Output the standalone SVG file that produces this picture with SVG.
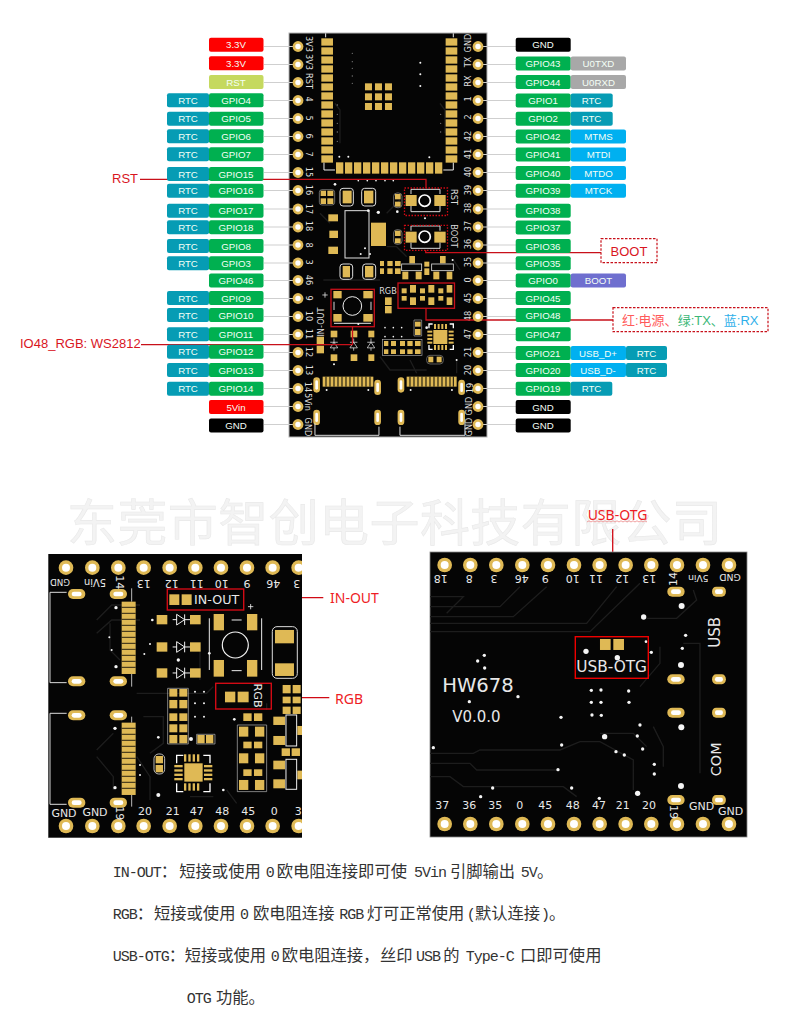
<svg xmlns="http://www.w3.org/2000/svg" width="790" height="1030" viewBox="0 0 790 1030">
<style>
text{font-family:"Liberation Sans",Arial,"Noto Sans CJK SC",sans-serif}
.t{font-size:9.7px;fill:#f4fff6;text-anchor:middle;dominant-baseline:central}
.r{fill:#fe0000}.gr{fill:#00b050}.c{fill:#069cb4}.l{fill:#c5d95f}.k{fill:#000}.y{fill:#a8a8a8}.b{fill:#00b0f0}.v{fill:#6f6fcf}
.cn{stroke:#cfcfcf;stroke-width:1.2;fill:none}
.rl{stroke:#c8101a;stroke-width:1.3;fill:none}
.rb{stroke:#d00a14;stroke-width:1.3;fill:none}
.dash{stroke:#c8101a;stroke-width:1.2;stroke-dasharray:2.5 1.5;fill:#fff}
.dot{stroke:#d00a14;stroke-width:1.3;stroke-dasharray:1.5 1.5;fill:none}
.rt{font-size:13px;fill:#d9161f;dominant-baseline:central}
.pure{font-family:"Noto Sans","Liberation Sans",sans-serif;font-size:14px;fill:#ee1c25;dominant-baseline:central}
.g{fill:#dfb955}
.s{fill:none;stroke:#ddd;stroke-width:3}
.w{fill:#f5f5f5}
.tr{fill:none;stroke:#1d1d1d;stroke-width:4}
.m text{font-family:"DejaVu Sans",sans-serif;font-size:8.2px;fill:#ddd;text-anchor:middle;dominant-baseline:central}
.m3 text{font-family:"DejaVu Sans",sans-serif;font-size:33px;fill:#e8e8e8;text-anchor:middle;dominant-baseline:central}
.note{font-size:16.3px;fill:#333;font-family:"Noto Sans CJK SC",sans-serif}
.note .a{font-family:"Liberation Mono",monospace;font-size:15px;letter-spacing:-1px}
.wm{font-family:"Noto Sans CJK SC",sans-serif;font-size:50px;fill:#f3f3f3;stroke:#e9e9e9;stroke-width:.6}
</style>
<defs>
<g id="pin"><circle r="5.4" fill="#dfb955"/><circle r="2.7" fill="#fff"/></g>
<g id="pinb"><circle r="22" fill="#dfb955"/><circle r="12" fill="#fff"/></g>
<g id="slot"><rect x="-26" y="-15" width="52" height="30" rx="15" fill="#dfb955"/><rect x="-15" y="-7" width="30" height="14" rx="7" fill="#fff"/></g>
<g id="slotv"><rect x="-10" y="-23" width="20" height="46" rx="10" fill="#dfb955"/><rect x="-4" y="-14" width="8" height="28" rx="4" fill="#fff"/></g>
<g id="diodeb"><path d="M-20 0H-8M-8-16V16L16 0ZM16-16V16M16 0H32" fill="none" stroke="#f2f2f2" stroke-width="3"/></g>
<clipPath id="clipL"><rect x="48" y="554" width="254" height="284"/></clipPath>
</defs>
<rect width="790" height="1030" fill="#fff"/>

<g id="watermark"><text class="wm" x="67" y="541" textLength="655">东莞市智创电子科技有限公司</text></g>

<g id="board-top">
<rect x="289" y="33" width="198" height="404" fill="#050505" stroke="#b5b5b5" stroke-width="1"/>
<g transform="translate(150,20) scale(.3333)">
<path class="tr" d="M870 250L885 270V340M555 250L570 270V370"/>
<g class="g">
<rect x="514" y="55" width="35" height="22"/><rect x="514" y="82" width="35" height="22"/><rect x="514" y="109" width="35" height="22"/><rect x="514" y="136" width="35" height="22"/><rect x="514" y="163" width="35" height="22"/><rect x="514" y="190" width="35" height="22"/><rect x="514" y="217" width="35" height="22"/><rect x="514" y="244" width="35" height="22"/><rect x="514" y="271" width="35" height="22"/><rect x="514" y="298" width="35" height="22"/><rect x="514" y="325" width="35" height="22"/><rect x="514" y="352" width="35" height="22"/><rect x="514" y="379" width="35" height="22"/><rect x="514" y="406" width="35" height="22"/>
<rect x="887" y="55" width="35" height="22"/><rect x="887" y="82" width="35" height="22"/><rect x="887" y="109" width="35" height="22"/><rect x="887" y="136" width="35" height="22"/><rect x="887" y="163" width="35" height="22"/><rect x="887" y="190" width="35" height="22"/><rect x="887" y="217" width="35" height="22"/><rect x="887" y="244" width="35" height="22"/><rect x="887" y="271" width="35" height="22"/><rect x="887" y="298" width="35" height="22"/><rect x="887" y="325" width="35" height="22"/><rect x="887" y="352" width="35" height="22"/><rect x="887" y="379" width="35" height="22"/><rect x="887" y="406" width="35" height="22"/>
<rect x="558" y="427" width="22" height="34"/><rect x="585" y="427" width="22" height="34"/><rect x="612" y="427" width="22" height="34"/><rect x="639" y="427" width="22" height="34"/><rect x="666" y="427" width="22" height="34"/><rect x="693" y="427" width="22" height="34"/><rect x="720" y="427" width="22" height="34"/><rect x="747" y="427" width="22" height="34"/><rect x="774" y="427" width="22" height="34"/><rect x="801" y="427" width="22" height="34"/><rect x="828" y="427" width="22" height="34"/><rect x="855" y="427" width="22" height="34"/>
<rect x="645" y="190" width="21" height="21"/><rect x="675" y="190" width="21" height="21"/><rect x="705" y="190" width="21" height="21"/><rect x="645" y="220" width="21" height="21"/><rect x="675" y="220" width="21" height="21"/><rect x="705" y="220" width="21" height="21"/><rect x="645" y="249" width="21" height="21"/><rect x="675" y="249" width="21" height="21"/><rect x="705" y="249" width="21" height="21"/>
</g>
<path d="M522 428V450H555M880 450H910V428M527 40V52M910 40V52" fill="none" stroke="#eee" stroke-width="3"/>
<g class="w"><circle cx="811" cy="128" r="3"/><circle cx="811" cy="163" r="3"/><circle cx="811" cy="198" r="3"/><circle cx="568" cy="410" r="3"/><circle cx="595" cy="410" r="3"/><circle cx="838" cy="412" r="3"/><circle cx="625" cy="482" r="2.5"/><circle cx="652" cy="482" r="2.5"/><circle cx="678" cy="482" r="2.5"/><circle cx="705" cy="482" r="2.5"/><circle cx="730" cy="482" r="2.5"/></g>
<g fill="#777"><circle cx="607" cy="100" r="2"/><circle cx="607" cy="125" r="2"/><circle cx="607" cy="145" r="2"/><circle cx="607" cy="168" r="2"/><circle cx="607" cy="190" r="2"/><circle cx="562" cy="255" r="2"/><circle cx="562" cy="283" r="2"/><circle cx="562" cy="310" r="2"/><circle cx="562" cy="336" r="2"/><circle cx="562" cy="364" r="2"/><circle cx="872" cy="283" r="2"/><circle cx="872" cy="310" r="2"/><circle cx="872" cy="336" r="2"/></g>
</g>

<g transform="translate(310,180) scale(.3333)">
<path class="tr" d="M30 100L60 130M230 100L270 60M230 200H260L290 230M40 300H210M430 240L450 270"/>
<g class="g">
<rect x="32" y="32" width="16" height="16"/><rect x="52" y="32" width="18" height="16"/><rect x="32" y="55" width="16" height="17"/><rect x="52" y="55" width="18" height="17"/>
<rect x="98" y="32" width="27" height="38"/><rect x="162" y="32" width="28" height="38"/>
<rect x="255" y="42" width="17" height="16"/><rect x="255" y="65" width="17" height="15"/>
<rect x="287" y="45" width="33" height="33"/><rect x="373" y="45" width="34" height="33"/>
<rect x="55" y="103" width="29" height="21"/><rect x="58" y="152" width="26" height="22"/><rect x="55" y="200" width="29" height="22"/>
<rect x="183" y="128" width="45" height="70"/>
<rect x="255" y="152" width="17" height="16"/><rect x="255" y="175" width="17" height="15"/>
<rect x="287" y="155" width="33" height="33"/><rect x="373" y="155" width="34" height="33"/>
<rect x="98" y="258" width="22" height="34"/><rect x="165" y="258" width="25" height="34"/>
<rect x="210" y="243" width="12" height="15"/><rect x="232" y="243" width="16" height="15"/><rect x="255" y="243" width="17" height="15"/><rect x="210" y="265" width="12" height="17"/><rect x="232" y="265" width="16" height="17"/><rect x="255" y="265" width="17" height="17"/>
<rect x="298" y="228" width="17" height="22"/><rect x="390" y="228" width="17" height="22"/><rect x="277" y="275" width="18" height="23"/><rect x="317" y="275" width="18" height="23"/><rect x="370" y="275" width="18" height="23"/><rect x="410" y="275" width="17" height="23"/>
<rect x="343" y="245" width="15" height="15"/><rect x="343" y="265" width="15" height="20"/>
</g>
<path class="s" d="M303 42V28H390V42M303 78V95H390V78M303 152V138H390V152M303 188V205H390V188"/>
<rect class="s" x="90" y="25" width="40" height="53" rx="9"/><rect class="s" x="155" y="25" width="42" height="53" rx="9"/>
<rect class="s" x="90" y="252" width="38" height="46" rx="9"/><rect class="s" x="158" y="252" width="39" height="46" rx="9"/>
<rect x="28" y="29" width="46" height="46" rx="8" fill="none" stroke="#999" stroke-width="2"/>
<rect x="251" y="39" width="25" height="44" rx="10" fill="none" stroke="#999" stroke-width="2"/><rect x="251" y="149" width="25" height="44" rx="10" fill="none" stroke="#999" stroke-width="2"/>
<rect x="105" y="92" width="72" height="142" fill="none" stroke="#e2e2e2" stroke-width="3"/>
<rect x="275" y="252" width="60" height="20" fill="none" stroke="#ddd" stroke-width="2.5"/><rect x="365" y="252" width="65" height="20" fill="none" stroke="#ddd" stroke-width="2.5"/>
<circle cx="344" cy="62" r="17" fill="none" stroke="#fff" stroke-width="5"/><circle cx="344" cy="170" r="17" fill="none" stroke="#fff" stroke-width="5"/>
<g class="w"><circle cx="175" cy="92" r="4"/><circle cx="205" cy="97" r="5"/><circle cx="262" cy="95" r="4"/><circle cx="345" cy="115" r="3"/><circle cx="165" cy="205" r="3"/><circle cx="152" cy="222" r="3"/><circle cx="180" cy="222" r="3"/><circle cx="75" cy="13" r="4"/><circle cx="428" cy="240" r="3"/></g>
</g>

<g transform="translate(310,280) scale(.3333)">
<path class="tr" d="M210 230L240 270H350M440 240V280M300 240L320 280"/>
<g class="g">
<rect x="70" y="33" width="25" height="22"/><rect x="160" y="33" width="28" height="22"/><rect x="70" y="102" width="25" height="23"/><rect x="160" y="102" width="28" height="23"/>
<rect x="20" y="170" width="22" height="25"/><rect x="20" y="197" width="22" height="23"/>
<rect x="62" y="152" width="20" height="20"/><rect x="122" y="152" width="20" height="20"/><rect x="175" y="152" width="18" height="20"/><rect x="62" y="223" width="20" height="20"/><rect x="122" y="223" width="20" height="20"/><rect x="175" y="223" width="18" height="20"/>
<rect x="225" y="52" width="20" height="23"/><rect x="225" y="78" width="20" height="22"/>
<rect x="275" y="25" width="15" height="15"/><rect x="300" y="15" width="18" height="23"/><rect x="330" y="25" width="15" height="15"/><rect x="355" y="15" width="18" height="23"/><rect x="385" y="25" width="15" height="15"/><rect x="410" y="15" width="17" height="23"/>
<rect x="275" y="48" width="15" height="14"/><rect x="300" y="52" width="18" height="23"/><rect x="330" y="48" width="15" height="14"/><rect x="355" y="52" width="18" height="23"/><rect x="385" y="48" width="15" height="14"/><rect x="410" y="52" width="17" height="23"/>
<rect x="222" y="183" width="13" height="15"/><rect x="243" y="183" width="15" height="15"/><rect x="222" y="208" width="13" height="14"/><rect x="243" y="208" width="15" height="14"/><rect x="270" y="183" width="15" height="15"/><rect x="292" y="183" width="16" height="15"/><rect x="315" y="183" width="17" height="15"/><rect x="270" y="208" width="15" height="14"/><rect x="292" y="208" width="16" height="14"/><rect x="315" y="208" width="17" height="14"/>
<rect x="315" y="125" width="17" height="15"/><rect x="315" y="147" width="17" height="18"/>
<rect x="370" y="150" width="42" height="42"/>
<rect x="372" y="132" width="6" height="15"/><rect x="383" y="132" width="6" height="15"/><rect x="394" y="132" width="6" height="15"/><rect x="405" y="132" width="6" height="15"/><rect x="372" y="195" width="6" height="15"/><rect x="383" y="195" width="6" height="15"/><rect x="394" y="195" width="6" height="15"/><rect x="405" y="195" width="6" height="15"/>
<rect x="352" y="152" width="15" height="6"/><rect x="352" y="163" width="15" height="6"/><rect x="352" y="174" width="15" height="6"/><rect x="352" y="185" width="15" height="6"/><rect x="416" y="152" width="15" height="6"/><rect x="416" y="163" width="15" height="6"/><rect x="416" y="174" width="15" height="6"/><rect x="416" y="185" width="15" height="6"/>
<rect x="355" y="230" width="15" height="17"/><rect x="380" y="230" width="15" height="17"/>
<rect x="38" y="290" width="152" height="30"/><rect x="290" y="290" width="150" height="30"/>
</g>
<path d="M48 290V320M60 290V320M72 290V320M84 290V320M96 290V320M108 290V320M120 290V320M132 290V320M144 290V320M156 290V320M168 290V320M180 290V320M300 290V320M312 290V320M324 290V320M336 290V320M348 290V320M360 290V320M372 290V320M384 290V320M396 290V320M408 290V320M420 290V320M430 290V320" stroke="#050505" stroke-width="3"/>
<path d="M312 120H335V168H312Z" fill="none" stroke="#aaa" stroke-width="2"/>
<rect x="218" y="178" width="118" height="48" fill="none" stroke="#aaa" stroke-width="2"/>
<rect x="350" y="226" width="50" height="26" rx="10" fill="none" stroke="#888" stroke-width="2"/>
<circle cx="127" cy="78" r="28" fill="none" stroke="#eee" stroke-width="3"/>
<path d="M72 65V90M183 65V90M72 130H183" stroke="#bbb" stroke-width="3.5" fill="none"/>
<path d="M45 37V53M37 45H53" stroke="#ddd" stroke-width="2.5"/>
<use href="#diodeb" transform="translate(72,198) rotate(-90) scale(.7)"/><use href="#diodeb" transform="translate(131,198) rotate(-90) scale(.7)"/><use href="#diodeb" transform="translate(183,198) rotate(-90) scale(.7)"/>
<path d="M357 145V132H368M430 145V132H419M357 195V208H368M430 195V208H419" fill="none" stroke="#fff" stroke-width="4"/>
<g class="w"><circle cx="225" cy="143" r="2.500"/><circle cx="250" cy="143" r="2.500"/><circle cx="275" cy="143" r="2.500"/><circle cx="225" cy="170" r="2.500"/><circle cx="250" cy="170" r="2.500"/><circle cx="275" cy="170" r="2.500"/><circle cx="350" cy="143" r="4"/><circle cx="145" cy="132" r="3"/><circle cx="72" cy="253" r="3"/><circle cx="440" cy="240" r="3"/></g>
</g>

<g transform="translate(0,230) scale(.3333)">
<use href="#slotv" x="950" y="465"/><use href="#slotv" x="1133" y="472"/><use href="#slotv" x="1203" y="465"/><use href="#slotv" x="1385" y="472"/><use href="#slotv" x="950" y="562"/><use href="#slotv" x="1133" y="562"/><use href="#slotv" x="1203" y="562"/><use href="#slotv" x="1385" y="562"/>
<path d="M945 580V616H1137V590M1200 590V616H1395V580" fill="none" stroke="#ddd" stroke-width="3"/>
<g class="w"><circle cx="980" cy="480" r="3"/><circle cx="1105" cy="480" r="3"/><circle cx="1232" cy="480" r="3"/><circle cx="1356" cy="480" r="3"/></g>
</g>
<g class="m">
<text transform="translate(309,44) rotate(90)">3V3</text><text transform="translate(309,62) rotate(90)">3V3</text><text transform="translate(309,81) rotate(90)">RST</text><text transform="translate(309,99) rotate(90)">4</text><text transform="translate(309,118) rotate(90)">5</text><text transform="translate(309,136) rotate(90)">6</text><text transform="translate(309,154) rotate(90)">7</text><text transform="translate(309,172) rotate(90)">15</text><text transform="translate(309,190) rotate(90)">16</text><text transform="translate(309,209) rotate(90)">17</text><text transform="translate(309,226) rotate(90)">18</text><text transform="translate(309,245) rotate(90)">8</text><text transform="translate(309,262) rotate(90)">3</text><text transform="translate(309,280) rotate(90)">46</text><text transform="translate(309,298) rotate(90)">9</text><text transform="translate(309,316) rotate(90)">10</text><text transform="translate(309,334) rotate(90)">11</text><text transform="translate(309,352) rotate(90)">12</text><text transform="translate(309,370) rotate(90)">13</text><text transform="translate(308,387) rotate(90)">14</text><text transform="translate(308,402) rotate(90)">5Vin</text><text transform="translate(308,427) rotate(90)">GND</text>
<text transform="translate(468,43) rotate(-90)">GND</text><text transform="translate(468,62) rotate(-90)">TX</text><text transform="translate(468,81) rotate(-90)">RX</text><text transform="translate(468,99) rotate(-90)">1</text><text transform="translate(468,117) rotate(-90)">2</text><text transform="translate(468,136) rotate(-90)">42</text><text transform="translate(468,154) rotate(-90)">41</text><text transform="translate(468,172) rotate(-90)">40</text><text transform="translate(468,190) rotate(-90)">39</text><text transform="translate(468,208) rotate(-90)">38</text><text transform="translate(468,226) rotate(-90)">37</text><text transform="translate(468,244) rotate(-90)">36</text><text transform="translate(468,262) rotate(-90)">35</text><text transform="translate(468,280) rotate(-90)">0</text><text transform="translate(468,298) rotate(-90)">45</text><text transform="translate(468,316) rotate(-90)">48</text><text transform="translate(468,334) rotate(-90)">47</text><text transform="translate(468,352) rotate(-90)">21</text><text transform="translate(468,370) rotate(-90)">20</text><text transform="translate(470,388) rotate(-90)">19</text><text transform="translate(469,406) rotate(-90)">GND</text><text transform="translate(469,427) rotate(-90)">GND</text>
<text transform="translate(454,197) rotate(90)">RST</text><text transform="translate(454,236) rotate(90)">BOOT</text>
<text x="388" y="291">RGB</text><text transform="translate(320.500,322) rotate(-90)">IN-OUT</text>
</g>
</g>

<g id="connectors">
<path class="cn" d="M264 46.5H298M264 64.5H298M264 82.5H298M264 100.5H298M264 118.5H298M264 136.5H298M264 154.5H298M264 172.5H298M264 190.5H298M264 209H298M264 227H298M264 245H298M264 263H298M264 280.5H298M264 298.5H298M264 316.5H298M264 334.5H298M264 352.5H298M264 370.5H298M264 388.5H298M264 406.5H298M264 424.5H298"/>
<path class="cn" d="M478 46.5H516M478 64.5H516M478 82.5H516M478 100.5H516M478 118.5H516M478 136.5H516M478 154.5H516M478 172.5H516M478 190.5H516M478 209H516M478 227H516M478 245H516M478 263H516M478 280.5H516M478 298.5H516M478 316.5H516M478 334.5H516M478 352.5H516M478 370.5H516M478 388.5H516M478 406.5H516M478 424.5H516"/>
<path class="rl" d="M140 179.3H426V188"/>
<path class="rl" d="M425.7 250V252.7H601"/>
<path class="rl" d="M426 308V320H613"/>
<path class="rl" d="M141 344.7H352.5V327"/>
<path class="rb" d="M243.7 597.7H323.3"/>
<path class="rb" d="M271.3 697.7H329.3"/>
<path class="rb" d="M612.7 529V636.7"/>
</g>

<g id="pins-top">
<use href="#pin" x="298" y="46.5"/><use href="#pin" x="298" y="64.5"/><use href="#pin" x="298" y="82.5"/><use href="#pin" x="298" y="100.5"/><use href="#pin" x="298" y="118.5"/><use href="#pin" x="298" y="136.5"/><use href="#pin" x="298" y="154.5"/><use href="#pin" x="298" y="172.5"/><use href="#pin" x="298" y="190.5"/><use href="#pin" x="298" y="209"/><use href="#pin" x="298" y="227"/><use href="#pin" x="298" y="245"/><use href="#pin" x="298" y="263"/><use href="#pin" x="298" y="280.5"/><use href="#pin" x="298" y="298.5"/><use href="#pin" x="298" y="316.5"/><use href="#pin" x="298" y="334.5"/><use href="#pin" x="298" y="352.5"/><use href="#pin" x="298" y="370.5"/><use href="#pin" x="298" y="388.5"/><use href="#pin" x="298" y="406.5"/><use href="#pin" x="298" y="424.5"/>
<use href="#pin" x="478" y="46.5"/><use href="#pin" x="478" y="64.5"/><use href="#pin" x="478" y="82.5"/><use href="#pin" x="478" y="100.5"/><use href="#pin" x="478" y="118.5"/><use href="#pin" x="478" y="136.5"/><use href="#pin" x="478" y="154.5"/><use href="#pin" x="478" y="172.5"/><use href="#pin" x="478" y="190.5"/><use href="#pin" x="478" y="209"/><use href="#pin" x="478" y="227"/><use href="#pin" x="478" y="245"/><use href="#pin" x="478" y="263"/><use href="#pin" x="478" y="280.5"/><use href="#pin" x="478" y="298.5"/><use href="#pin" x="478" y="316.5"/><use href="#pin" x="478" y="334.5"/><use href="#pin" x="478" y="352.5"/><use href="#pin" x="478" y="370.5"/><use href="#pin" x="478" y="388.5"/><use href="#pin" x="478" y="406.5"/><use href="#pin" x="478" y="424.5"/>
</g>

<g id="labels-left">
<g id="l-3v3a"><rect class="r" x="209" y="37.7" width="54.5" height="14" rx="2"/><text class="t" x="236" y="44.7">3.3V</text></g>
<g id="l-3v3b"><rect class="r" x="209" y="56.3" width="54.5" height="14" rx="2"/><text class="t" x="236" y="63.3">3.3V</text></g>
<g id="l-rst"><rect class="l" x="209" y="75" width="54.5" height="14" rx="2"/><text class="t" x="236" y="82">RST</text></g>
<g id="l-4"><rect class="c" x="167" y="93.3" width="42" height="14" rx="2"/><text class="t" x="188" y="100.3">RTC</text><rect class="gr" x="209" y="93.3" width="54.5" height="14" rx="2"/><text class="t" x="236" y="100.3">GPIO4</text></g>
<g id="l-5"><rect class="c" x="167" y="111.7" width="42" height="14" rx="2"/><text class="t" x="188" y="118.7">RTC</text><rect class="gr" x="209" y="111.7" width="54.5" height="14" rx="2"/><text class="t" x="236" y="118.7">GPIO5</text></g>
<g id="l-6"><rect class="c" x="167" y="129.3" width="42" height="14" rx="2"/><text class="t" x="188" y="136.3">RTC</text><rect class="gr" x="209" y="129.3" width="54.5" height="14" rx="2"/><text class="t" x="236" y="136.3">GPIO6</text></g>
<g id="l-7"><rect class="c" x="167" y="147.3" width="42" height="14" rx="2"/><text class="t" x="188" y="154.3">RTC</text><rect class="gr" x="209" y="147.3" width="54.5" height="14" rx="2"/><text class="t" x="236" y="154.3">GPIO7</text></g>
<g id="l-15"><rect class="c" x="167" y="167" width="42" height="14" rx="2"/><text class="t" x="188" y="174">RTC</text><rect class="gr" x="209" y="167" width="54.5" height="14" rx="2"/><text class="t" x="236" y="174">GPIO15</text></g>
<g id="l-16"><rect class="c" x="167" y="183.7" width="42" height="14" rx="2"/><text class="t" x="188" y="190.7">RTC</text><rect class="gr" x="209" y="183.7" width="54.5" height="14" rx="2"/><text class="t" x="236" y="190.7">GPIO16</text></g>
<g id="l-17"><rect class="c" x="167" y="203.7" width="42" height="14" rx="2"/><text class="t" x="188" y="210.7">RTC</text><rect class="gr" x="209" y="203.7" width="54.5" height="14" rx="2"/><text class="t" x="236" y="210.7">GPIO17</text></g>
<g id="l-18"><rect class="c" x="167" y="220.3" width="42" height="14" rx="2"/><text class="t" x="188" y="227.3">RTC</text><rect class="gr" x="209" y="220.3" width="54.5" height="14" rx="2"/><text class="t" x="236" y="227.3">GPIO18</text></g>
<g id="l-8"><rect class="c" x="167" y="239" width="42" height="14" rx="2"/><text class="t" x="188" y="246">RTC</text><rect class="gr" x="209" y="239" width="54.5" height="14" rx="2"/><text class="t" x="236" y="246">GPIO8</text></g>
<g id="l-3"><rect class="c" x="167" y="256.3" width="42" height="14" rx="2"/><text class="t" x="188" y="263.3">RTC</text><rect class="gr" x="209" y="256.3" width="54.5" height="14" rx="2"/><text class="t" x="236" y="263.3">GPIO3</text></g>
<g id="l-46"><rect class="gr" x="209" y="273.5" width="54.5" height="14" rx="2"/><text class="t" x="236" y="280.5">GPIO46</text></g>
<g id="l-9"><rect class="c" x="167" y="291" width="42" height="14" rx="2"/><text class="t" x="188" y="298">RTC</text><rect class="gr" x="209" y="291" width="54.5" height="14" rx="2"/><text class="t" x="236" y="298">GPIO9</text></g>
<g id="l-10"><rect class="c" x="167" y="308" width="42" height="14" rx="2"/><text class="t" x="188" y="315">RTC</text><rect class="gr" x="209" y="308" width="54.5" height="14" rx="2"/><text class="t" x="236" y="315">GPIO10</text></g>
<g id="l-11"><rect class="c" x="167" y="327.2" width="42" height="14" rx="2"/><text class="t" x="188" y="334.2">RTC</text><rect class="gr" x="209" y="327.2" width="54.5" height="14" rx="2"/><text class="t" x="236" y="334.2">GPIO11</text></g>
<g id="l-12"><rect class="c" x="167" y="344.7" width="42" height="14" rx="2"/><text class="t" x="188" y="351.7">RTC</text><rect class="gr" x="209" y="344.7" width="54.5" height="14" rx="2"/><text class="t" x="236" y="351.7">GPIO12</text></g>
<g id="l-13"><rect class="c" x="167" y="363" width="42" height="14" rx="2"/><text class="t" x="188" y="370">RTC</text><rect class="gr" x="209" y="363" width="54.5" height="14" rx="2"/><text class="t" x="236" y="370">GPIO13</text></g>
<g id="l-14"><rect class="c" x="167" y="381.7" width="42" height="14" rx="2"/><text class="t" x="188" y="388.7">RTC</text><rect class="gr" x="209" y="381.7" width="54.5" height="14" rx="2"/><text class="t" x="236" y="388.7">GPIO14</text></g>
<g id="l-5vin"><rect class="r" x="209" y="400" width="54.5" height="14" rx="2"/><text class="t" x="236" y="407">5Vin</text></g>
<g id="l-gnd"><rect class="k" x="209" y="418.5" width="54.5" height="14" rx="2"/><text class="t" x="236" y="425.5">GND</text></g>
</g>

<g id="labels-right">
<g id="r-gnda"><rect class="k" x="515.7" y="37.7" width="55" height="14" rx="2"/><text class="t" x="543" y="44.7">GND</text></g>
<g id="r-43"><rect class="gr" x="515.7" y="56.5" width="55" height="14" rx="2"/><text class="t" x="543" y="63.5">GPIO43</text><rect class="y" x="570.7" y="56.5" width="55.3" height="14" rx="2"/><text class="t" x="598.5" y="63.5">U0TXD</text></g>
<g id="r-44"><rect class="gr" x="515.7" y="75" width="55" height="14" rx="2"/><text class="t" x="543" y="82">GPIO44</text><rect class="y" x="570.7" y="75" width="55.3" height="14" rx="2"/><text class="t" x="598.5" y="82">U0RXD</text></g>
<g id="r-1"><rect class="gr" x="515.7" y="93.5" width="55" height="14" rx="2"/><text class="t" x="543" y="100.5">GPIO1</text><rect class="c" x="570.7" y="93.5" width="42" height="14" rx="2"/><text class="t" x="591.5" y="100.5">RTC</text></g>
<g id="r-2"><rect class="gr" x="515.7" y="111.8" width="55" height="14" rx="2"/><text class="t" x="543" y="118.8">GPIO2</text><rect class="c" x="570.7" y="111.8" width="42" height="14" rx="2"/><text class="t" x="591.5" y="118.8">RTC</text></g>
<g id="r-42"><rect class="gr" x="515.7" y="129.5" width="55" height="14" rx="2"/><text class="t" x="543" y="136.5">GPIO42</text><rect class="b" x="570.7" y="129.5" width="55.3" height="14" rx="2"/><text class="t" x="598.5" y="136.5">MTMS</text></g>
<g id="r-41"><rect class="gr" x="515.7" y="147.5" width="55" height="14" rx="2"/><text class="t" x="543" y="154.5">GPIO41</text><rect class="b" x="570.7" y="147.5" width="55.3" height="14" rx="2"/><text class="t" x="598.5" y="154.5">MTDI</text></g>
<g id="r-40"><rect class="gr" x="515.7" y="166" width="55" height="14" rx="2"/><text class="t" x="543" y="173">GPIO40</text><rect class="b" x="570.7" y="166" width="55.3" height="14" rx="2"/><text class="t" x="598.5" y="173">MTDO</text></g>
<g id="r-39"><rect class="gr" x="515.7" y="183.8" width="55" height="14" rx="2"/><text class="t" x="543" y="190.8">GPIO39</text><rect class="b" x="570.7" y="183.8" width="55.3" height="14" rx="2"/><text class="t" x="598.5" y="190.8">MTCK</text></g>
<g id="r-38"><rect class="gr" x="515.7" y="203.7" width="55" height="14" rx="2"/><text class="t" x="543" y="210.7">GPIO38</text></g>
<g id="r-37"><rect class="gr" x="515.7" y="220.5" width="55" height="14" rx="2"/><text class="t" x="543" y="227.5">GPIO37</text></g>
<g id="r-36"><rect class="gr" x="515.7" y="239" width="55" height="14" rx="2"/><text class="t" x="543" y="246">GPIO36</text></g>
<g id="r-35"><rect class="gr" x="515.7" y="256.3" width="55" height="14" rx="2"/><text class="t" x="543" y="263.3">GPIO35</text></g>
<g id="r-0"><rect class="gr" x="515.7" y="273.5" width="55" height="14" rx="2"/><text class="t" x="543" y="280.5">GPIO0</text><rect class="v" x="570.7" y="273.5" width="55.3" height="14" rx="2"/><text class="t" x="598.5" y="280.5">BOOT</text></g>
<g id="r-45"><rect class="gr" x="515.7" y="291" width="55" height="14" rx="2"/><text class="t" x="543" y="298">GPIO45</text></g>
<g id="r-48"><rect class="gr" x="515.7" y="308" width="55" height="14" rx="2"/><text class="t" x="543" y="315">GPIO48</text></g>
<g id="r-47"><rect class="gr" x="515.7" y="327.2" width="55" height="14" rx="2"/><text class="t" x="543" y="334.2">GPIO47</text></g>
<g id="r-21"><rect class="gr" x="515.7" y="346" width="55" height="14" rx="2"/><text class="t" x="543" y="353">GPIO21</text><rect class="b" x="570.7" y="346" width="55.3" height="14" rx="2"/><text class="t" x="598" y="353">USB_D+</text><rect class="c" x="626" y="346" width="41" height="14" rx="2"/><text class="t" x="646.5" y="353">RTC</text></g>
<g id="r-20"><rect class="gr" x="515.7" y="363" width="55" height="14" rx="2"/><text class="t" x="543" y="370">GPIO20</text><rect class="b" x="570.7" y="363" width="55.3" height="14" rx="2"/><text class="t" x="598" y="370">USB_D-</text><rect class="c" x="626" y="363" width="41" height="14" rx="2"/><text class="t" x="646.5" y="370">RTC</text></g>
<g id="r-19"><rect class="gr" x="515.7" y="381.7" width="55" height="14" rx="2"/><text class="t" x="543" y="388.7">GPIO19</text><rect class="c" x="570.7" y="381.7" width="41.6" height="14" rx="2"/><text class="t" x="591.5" y="388.7">RTC</text></g>
<g id="r-gndb"><rect class="k" x="515.7" y="400" width="55" height="14" rx="2"/><text class="t" x="543" y="407">GND</text></g>
<g id="r-gndc"><rect class="k" x="515.7" y="418.5" width="55" height="14" rx="2"/><text class="t" x="543" y="425.5">GND</text></g>
</g>

<g id="callouts-top">
<text class="rt" x="112" y="178">RST</text>
<text class="rt" x="20" y="343">IO48_RGB: WS2812</text>
<rect class="dot" x="404.5" y="188" width="43" height="27.5"/>
<rect class="dot" x="404.5" y="225.300" width="43" height="25"/>
<rect x="398" y="283" width="56.500" height="25.300" fill="none" stroke="#c8101a" stroke-width="1.3"/>
<rect x="331" y="289.300" width="43.300" height="37.400" fill="none" stroke="#c8101a" stroke-width="1.3"/>
<g id="c-boot"><rect class="dash" x="601" y="238.7" width="56" height="24"/><text class="rt" x="629" y="251" text-anchor="middle">BOOT</text></g>
<g id="c-rgb"><rect class="dash" x="613" y="307.7" width="155" height="24"/><text x="622" y="324.5" font-size="13"><tspan fill="#ff5a5a">红:电源、</tspan><tspan fill="#3cb878">绿:TX、</tspan><tspan fill="#2fb0ea">蓝:RX</tspan></text></g>
</g>

<g id="board-left" clip-path="url(#clipL)">
<rect x="48" y="554" width="254" height="284" fill="#050505"/>
<path d="M48 554V838H302" fill="none" stroke="#999" stroke-width="1"/>
<g transform="translate(40,490) scale(.3333)">
<path class="tr" d="M170 390L215 345H300M170 430L215 390H300M210 400V480L240 510M290 610H500L520 590M310 680H370V760L330 790M170 780L220 730M170 800L220 860V900M290 800L330 860V930M480 480V570M560 900L590 940M680 660V640M450 920H520"/>
<path d="M30 307V578H80M30 307H80M30 670V943H80M30 670H80" fill="none" stroke="#ddd" stroke-width="3"/>
<path d="M275 295V335M275 552V590M275 680V698M275 915V950" stroke="#ddd" stroke-width="2.5"/>
<g class="g">
<rect x="245" y="335" width="42" height="217"/><rect x="245" y="698" width="42" height="217"/>
<rect x="388" y="313" width="30" height="32"/><rect x="425" y="313" width="30" height="32"/>
<rect x="350" y="375" width="32" height="28"/><rect x="450" y="375" width="32" height="28"/><rect x="350" y="457" width="32" height="28"/><rect x="450" y="457" width="32" height="28"/><rect x="350" y="535" width="32" height="28"/><rect x="450" y="535" width="32" height="28"/>
<rect x="521" y="372" width="31" height="49"/><rect x="621" y="372" width="31" height="49"/><rect x="521" y="510" width="31" height="50"/><rect x="621" y="510" width="31" height="50"/>
<rect x="705" y="420" width="57" height="40"/><rect x="705" y="520" width="57" height="38"/>
<rect x="555" y="605" width="31" height="32"/><rect x="593" y="605" width="33" height="32"/>
<rect x="388" y="597" width="24" height="23"/><rect x="418" y="597" width="24" height="23"/><rect x="388" y="630" width="24" height="25"/><rect x="418" y="630" width="24" height="25"/><rect x="388" y="670" width="24" height="23"/><rect x="418" y="670" width="24" height="23"/><rect x="388" y="703" width="24" height="24"/><rect x="418" y="703" width="24" height="24"/><rect x="388" y="735" width="24" height="25"/><rect x="418" y="735" width="24" height="25"/>
<rect x="472" y="735" width="22" height="25"/><rect x="498" y="735" width="22" height="25"/>
<rect x="347" y="798" width="22" height="22"/><rect x="347" y="825" width="22" height="22"/>
<rect x="433" y="820" width="55" height="55"/>
<rect x="432" y="793" width="7" height="22"/><rect x="445" y="793" width="7" height="22"/><rect x="458" y="793" width="7" height="22"/><rect x="471" y="793" width="7" height="22"/><rect x="432" y="880" width="7" height="22"/><rect x="445" y="880" width="7" height="22"/><rect x="458" y="880" width="7" height="22"/><rect x="471" y="880" width="7" height="22"/>
<rect x="403" y="825" width="25" height="7"/><rect x="403" y="838" width="25" height="7"/><rect x="403" y="851" width="25" height="7"/><rect x="403" y="864" width="25" height="7"/><rect x="492" y="825" width="25" height="7"/><rect x="492" y="838" width="25" height="7"/><rect x="492" y="851" width="25" height="7"/><rect x="492" y="864" width="25" height="7"/>
<rect x="610" y="670" width="25" height="23"/><rect x="642" y="670" width="25" height="23"/><rect x="597" y="710" width="28" height="30"/><rect x="645" y="710" width="28" height="30"/><rect x="610" y="755" width="25" height="20"/><rect x="642" y="755" width="25" height="20"/><rect x="597" y="790" width="28" height="30"/><rect x="645" y="790" width="28" height="30"/><rect x="610" y="838" width="25" height="20"/><rect x="642" y="838" width="25" height="20"/><rect x="597" y="870" width="28" height="30"/><rect x="645" y="870" width="28" height="30"/>
<rect x="728" y="585" width="24" height="25"/><rect x="758" y="585" width="24" height="25"/><rect x="728" y="620" width="24" height="20"/><rect x="758" y="620" width="24" height="20"/><rect x="728" y="650" width="24" height="22"/><rect x="758" y="650" width="24" height="22"/>
<rect x="700" y="680" width="35" height="25"/><rect x="700" y="738" width="35" height="27"/><rect x="700" y="812" width="35" height="26"/><rect x="700" y="868" width="35" height="27"/><rect x="772" y="708" width="16" height="27"/><rect x="772" y="842" width="16" height="26"/>
<rect x="725" y="775" width="25" height="23"/><rect x="755" y="775" width="25" height="23"/>
</g>
<path d="M245 352H287M245 370H287M245 388H287M245 406H287M245 424H287M245 442H287M245 460H287M245 478H287M245 496H287M245 514H287M245 532H287M245 715H287M245 733H287M245 751H287M245 769H287M245 787H287M245 805H287M245 823H287M245 841H287M245 859H287M245 877H287M245 895H287" stroke="#050505" stroke-width="2.5"/>
<use href="#diodeb" x="418" y="389"/><use href="#diodeb" x="418" y="471"/><use href="#diodeb" x="418" y="549"/>
<circle cx="586" cy="465" r="39" fill="none" stroke="#f5f5f5" stroke-width="3.5"/>
<path d="M508 385V540M665 385V540M575 390H605M575 542H605" stroke="#eee" stroke-width="3"/>
<path d="M632 342V358M624 350H640" stroke="#eee" stroke-width="2.5"/>
<rect x="697" y="410" width="75" height="155" rx="14" fill="none" stroke="#ddd" stroke-width="3"/>
<rect x="738" y="675" width="32" height="93" fill="none" stroke="#eee" stroke-width="3"/><rect x="738" y="808" width="32" height="90" fill="none" stroke="#eee" stroke-width="3"/>
<rect x="342" y="792" width="32" height="60" rx="14" fill="none" stroke="#ddd" stroke-width="2.5"/>
<path d="M383 595H445V762H383ZM470 733H525V762H470ZM592 705H680V905H592Z" fill="none" stroke="#bbb" stroke-width="2"/>
<path d="M410 820V796H430M510 820V796H490M410 880V905H430M510 880V905H490" fill="none" stroke="#fff" stroke-width="4"/>
<g class="w"><circle cx="228" cy="353" r="5"/><circle cx="228" cy="530" r="5"/><circle cx="225" cy="715" r="5"/><circle cx="225" cy="893" r="5"/><circle cx="337" cy="390" r="4"/><circle cx="415" cy="510" r="5"/><circle cx="508" cy="490" r="4"/><circle cx="355" cy="915" r="6"/><circle cx="453" cy="747" r="6"/><circle cx="465" cy="605" r="3"/><circle cx="492" cy="605" r="3"/><circle cx="465" cy="640" r="3"/><circle cx="492" cy="640" r="3"/><circle cx="465" cy="680" r="3"/><circle cx="492" cy="680" r="3"/><circle cx="583" cy="688" r="4"/><circle cx="550" cy="900" r="4"/><circle cx="355" cy="742" r="4"/><circle cx="300" cy="825" r="3"/><circle cx="300" cy="855" r="3"/><circle cx="330" cy="462" r="3"/><circle cx="313" cy="492" r="3"/><circle cx="208" cy="442" r="3"/><circle cx="215" cy="480" r="3"/></g>
<use href="#slot" x="110" y="312"/><use href="#slot" x="235" y="312"/><use href="#slot" x="110" y="574"/><use href="#slot" x="235" y="574"/><use href="#slot" x="110" y="676"/><use href="#slot" x="235" y="676"/><use href="#slot" x="110" y="938"/><use href="#slot" x="235" y="938"/>
<g><use href="#pinb" x="78" y="233"/><use href="#pinb" x="157" y="233"/><use href="#pinb" x="235" y="233"/><use href="#pinb" x="311" y="233"/><use href="#pinb" x="389" y="233"/><use href="#pinb" x="466" y="233"/><use href="#pinb" x="543" y="233"/><use href="#pinb" x="621" y="233"/><use href="#pinb" x="698" y="233"/><use href="#pinb" x="776" y="233"/><use href="#pinb" x="78" y="1008"/><use href="#pinb" x="157" y="1008"/><use href="#pinb" x="235" y="1008"/><use href="#pinb" x="311" y="1008"/><use href="#pinb" x="389" y="1008"/><use href="#pinb" x="466" y="1008"/><use href="#pinb" x="543" y="1008"/><use href="#pinb" x="621" y="1008"/><use href="#pinb" x="698" y="1008"/><use href="#pinb" x="776" y="1008"/></g>
<g class="m3">
<text transform="translate(60,277) rotate(180)" style="font-size:26px">GND</text><text transform="translate(165,277) rotate(180)" style="font-size:30px">5Vin</text><text transform="translate(238,277) rotate(90)">14</text><text transform="translate(311,280) rotate(180)">13</text><text transform="translate(395,280) rotate(180)">12</text><text transform="translate(470,280) rotate(180)">11</text><text transform="translate(545,280) rotate(180)">10</text><text transform="translate(621,280) rotate(180)">9</text><text transform="translate(700,280) rotate(180)">46</text><text transform="translate(770,280) rotate(180)">3</text>
<text x="72" y="970">GND</text><text x="165" y="968">GND</text><text transform="translate(238,970) rotate(90)">19</text><text x="315" y="965">20</text><text x="398" y="965">21</text><text x="470" y="965">47</text><text x="547" y="965">48</text><text x="625" y="965">45</text><text x="703" y="965">0</text><text x="785" y="965">35</text>
<text x="530" y="328" style="font-size:38px">IN-OUT</text><text transform="translate(653,617) rotate(90)" style="font-size:34px">RGB</text>
</g>
</g>
</g>
<g id="callouts-left">
<rect x="167.3" y="589" width="76.4" height="21" fill="none" stroke="#d00a14" stroke-width="1.4"/>
<rect x="215.7" y="683.3" width="55.6" height="25.7" fill="none" stroke="#d00a14" stroke-width="1.4"/>
<text class="pure" x="330" y="597">IN-OUT</text>
<text class="pure" x="335" y="698">RGB</text>
</g>

<g id="board-right">
<rect x="430" y="552" width="317" height="285" fill="#050505" stroke="#888" stroke-width=".8"/>
<g transform="translate(420,490) scale(.3333)">
<path class="tr" d="M30 320H130L80 370M30 350H240L300 290M30 380H280L380 290M30 400H500L590 290M30 425H510L660 280M30 790H160L180 780H420L480 755H540L640 810V900M30 860H90L130 890H430L470 920M660 590L720 520L720 470M790 460H840V850M820 300L830 330L770 385H680M700 710L730 770V830M540 730H640L680 770M30 820H150L170 840H410"/>
<g class="w"><circle cx="785" cy="348" r="9"/><circle cx="671" cy="381" r="8"/><circle cx="797" cy="436" r="5"/><circle cx="787" cy="475" r="5"/><circle cx="783" cy="525" r="9"/><circle cx="498" cy="484" r="8"/><circle cx="592" cy="503" r="8"/><circle cx="678" cy="455" r="4"/><circle cx="694" cy="487" r="5"/><circle cx="193" cy="496" r="5"/><circle cx="173" cy="513" r="5"/><circle cx="194" cy="534" r="5"/><circle cx="148" cy="635" r="5"/><circle cx="294" cy="620" r="5"/><circle cx="514" cy="601" r="5"/><circle cx="543" cy="600" r="5"/><circle cx="626" cy="603" r="5"/><circle cx="514" cy="637" r="5"/><circle cx="543" cy="637" r="5"/><circle cx="627" cy="637" r="5"/><circle cx="516" cy="675" r="5"/><circle cx="544" cy="676" r="5"/><circle cx="423" cy="682" r="5"/><circle cx="660" cy="705" r="5"/><circle cx="784" cy="712" r="9"/><circle cx="652" cy="738" r="5"/><circle cx="554" cy="740" r="8"/><circle cx="425" cy="765" r="5"/><circle cx="668" cy="777" r="5"/><circle cx="588" cy="785" r="5"/><circle cx="613" cy="795" r="5"/><circle cx="703" cy="823" r="5"/><circle cx="703" cy="852" r="5"/><circle cx="414" cy="839" r="5"/><circle cx="783" cy="888" r="9"/><circle cx="653" cy="910" r="8"/><circle cx="40" cy="773" r="5"/><circle cx="218" cy="894" r="5"/><circle cx="182" cy="920" r="5"/><circle cx="455" cy="894" r="5"/><circle cx="538" cy="925" r="5"/></g>
<g class="g"><rect x="540" y="447" width="32" height="33"/><rect x="580" y="447" width="32" height="33"/></g>
<use href="#slot" x="768" y="305"/><use href="#slot" transform="translate(897,305) scale(.8,1)"/><use href="#slot" x="768" y="568"/><use href="#slot" transform="translate(897,568) scale(.8,1)"/><use href="#slot" x="768" y="668"/><use href="#slot" transform="translate(897,668) scale(.8,1)"/><use href="#slot" x="768" y="930"/><use href="#slot" transform="translate(897,930) scale(.8,1)"/>
<use href="#pinb" x="74" y="225"/><use href="#pinb" x="151" y="225"/><use href="#pinb" x="229" y="225"/><use href="#pinb" x="307" y="225"/><use href="#pinb" x="384" y="225"/><use href="#pinb" x="462" y="225"/><use href="#pinb" x="539" y="225"/><use href="#pinb" x="617" y="225"/><use href="#pinb" x="694" y="225"/><use href="#pinb" x="771" y="225"/><use href="#pinb" x="849" y="225"/><use href="#pinb" x="927" y="225"/>
<use href="#pinb" x="74" y="1002"/><use href="#pinb" x="151" y="1002"/><use href="#pinb" x="229" y="1002"/><use href="#pinb" x="307" y="1002"/><use href="#pinb" x="384" y="1002"/><use href="#pinb" x="462" y="1002"/><use href="#pinb" x="539" y="1002"/><use href="#pinb" x="617" y="1002"/><use href="#pinb" x="694" y="1002"/><use href="#pinb" x="771" y="1002"/><use href="#pinb" x="849" y="1002"/><use href="#pinb" x="927" y="1002"/>
<g class="m3">
<text transform="translate(62,267) rotate(180)">18</text><text transform="translate(148,267) rotate(180)">8</text><text transform="translate(222,267) rotate(180)">3</text><text transform="translate(305,267) rotate(180)">46</text><text transform="translate(376,267) rotate(180)">9</text><text transform="translate(458,267) rotate(180)">10</text><text transform="translate(528,267) rotate(180)">11</text><text transform="translate(607,267) rotate(180)">12</text><text transform="translate(688,267) rotate(180)">13</text><text transform="translate(760,267) rotate(-90)">14</text><text transform="translate(835,265) rotate(180)" style="font-size:28px">5Vin</text><text transform="translate(930,262) rotate(180)" style="font-size:28px">GND</text>
<text x="67" y="947">37</text><text x="148" y="947">36</text><text x="226" y="947">35</text><text x="299" y="947">0</text><text x="376" y="947">45</text><text x="458" y="947">48</text><text x="537" y="947">47</text><text x="608" y="947">21</text><text x="687" y="947">20</text><text transform="translate(760,966) rotate(90)">19</text><text x="845" y="950">GND</text><text x="932" y="966">GND</text>
<text x="575" y="530" style="font-size:46px">USB-OTG</text>
<text x="174" y="587" style="font-size:59px">HW678</text>
<text x="169" y="682" style="font-size:45px">V0.0.0</text>
<text transform="translate(885,427) rotate(-90)" style="font-size:45px">USB</text>
<text transform="translate(889,808) rotate(-90)" style="font-size:43px">COM</text>
</g>
</g>
</g>
<g id="callouts-right">
<rect x="575.3" y="636.7" width="73" height="41.6" fill="none" stroke="#ee0000" stroke-width="1.4"/>
<text x="617.5" y="514" text-anchor="middle" style="font-family:'Noto Sans',sans-serif;font-size:14px;fill:#ee1c25;dominant-baseline:central">USB-OTG</text>
<path d="M587 522l2-1.200 2 1.200 2-1.200 2 1.200 2-1.200 2 1.200 2-1.200 2 1.200 2-1.200 2 1.200 2-1.200 2 1.200 2-1.200 2 1.200 2-1.200 2 1.200 2-1.200 2 1.200 2-1.200 2 1.200 2-1.200 2 1.200 2-1.200 2 1.200 2-1.200 2 1.200 2-1.200 2 1.200 2-1.200 2 1.200" fill="none" stroke="#e88" stroke-width=".8"/>
</g>

<g id="notes">
<text class="note" y="877"><tspan class="a" x="112.700">IN-OUT</tspan><tspan x="160.700">：</tspan><tspan x="179.300">短接或使用</tspan><tspan class="a" x="265.700">0</tspan><tspan x="276.700">欧电阻连接即可使</tspan><tspan class="a" x="414">5Vin</tspan><tspan x="450">引脚输出</tspan><tspan class="a" x="520.700">5V</tspan><tspan x="537">。</tspan></text>
<text class="note" y="919"><tspan class="a" x="112.700">RGB</tspan><tspan x="136.700">：</tspan><tspan x="154">短接或使用</tspan><tspan class="a" x="240">0</tspan><tspan x="253">欧电阻连接</tspan><tspan class="a" x="339.300">RGB</tspan><tspan x="366.700">灯可正常使用</tspan><tspan class="a" x="466.700">(</tspan><tspan x="475">默认连接</tspan><tspan class="a" x="541">)</tspan><tspan x="549">。</tspan></text>
<text class="note" y="961"><tspan class="a" x="112.700">USB-OTG</tspan><tspan x="168.700">：</tspan><tspan x="184.700">短接或使用</tspan><tspan class="a" x="270.700">0</tspan><tspan x="281.700">欧电阻连接，</tspan><tspan x="380">丝印</tspan><tspan class="a" x="416">USB</tspan><tspan x="443.300">的</tspan><tspan class="a" x="465.700">Type-C</tspan><tspan x="520">口即可使用</tspan></text>
<text class="note" y="1003"><tspan class="a" x="186.700">OTG</tspan><tspan x="216">功能。</tspan></text>
</g>
</svg>
